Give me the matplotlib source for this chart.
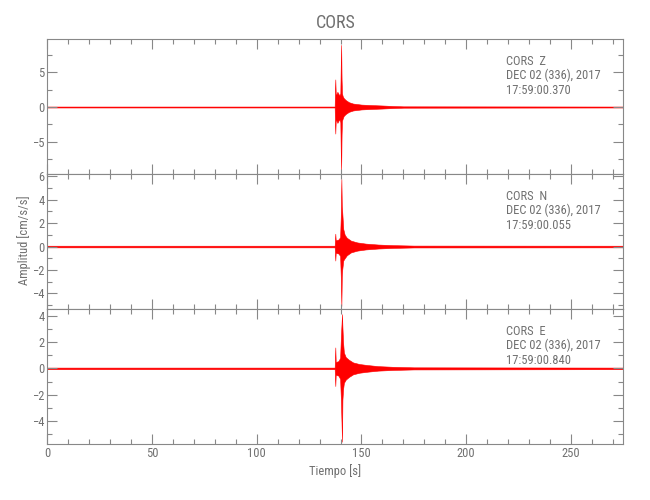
import matplotlib
matplotlib.use("Agg")
import matplotlib.pyplot as plt
from matplotlib.ticker import MultipleLocator
from matplotlib import font_manager

names = {f.name for f in font_manager.fontManager.ttflist}
fam = [n for n in ['Liberation Sans Narrow', 'DejaVu Sans Condensed', 'Roboto Condensed']
       if n in names] + ['DejaVu Sans']
plt.rcParams['font.family'] = fam
condensed = fam[0] != 'DejaVu Sans'
fs = 9 if condensed else 8

# ---------------- data (envelopes) ----------------
station = "CORS"
date_str = "DEC 02 (336), 2017"
components = ["Z", "N", "E"]
start_times = ["17:59:00.370", "17:59:00.055", "17:59:00.840"]

t_z = [0, 137.2, 137.35, 137.5, 137.7, 138.0, 138.5, 139.0, 139.5, 139.9, 140.1,
       140.3, 140.5, 140.7, 141.0, 141.5, 142.5, 144, 146, 150, 155, 160, 165, 170, 275]
up_z = [0.07, 0.07, 2.5, 4.0, 2.0, 1.8, 2.2, 1.9, 1.7, 2.0, 6.0,
        9.0, 4.0, 2.0, 1.6, 1.3, 1.0, 0.7, 0.5, 0.35, 0.28, 0.22, 0.15, 0.1, 0.07]
lo_z = [-0.07, -0.07, -2.5, -3.85, -2.0, -1.9, -2.3, -2.0, -1.8, -2.2, -6.5,
        -9.1, -4.0, -2.0, -1.7, -1.3, -1.0, -0.7, -0.5, -0.35, -0.28, -0.22, -0.15, -0.1, -0.07]

t_n = [0, 137.2, 137.35, 137.5, 137.7, 138.0, 139.0, 139.8, 140.1, 140.4, 140.6,
       140.8, 141.3, 142, 143, 145, 148, 152, 158, 165, 175, 275]
up_n = [0.07, 0.07, 0.6, 1.1, 0.55, 0.55, 0.6, 0.8, 2.5, 5.77, 3.5,
        3.0, 1.5, 1.0, 0.75, 0.5, 0.35, 0.25, 0.17, 0.12, 0.08, 0.07]
lo_n = [-0.07, -0.07, -0.6, -1.2, -0.55, -0.55, -0.6, -0.8, -2.5, -5.08, -2.6,
        -2.0, -1.2, -1.0, -0.75, -0.5, -0.35, -0.25, -0.17, -0.12, -0.08, -0.07]

t_e = [0, 137.2, 137.35, 137.5, 137.7, 138.0, 139.0, 139.8, 140.2, 140.7, 140.9,
       141.2, 141.6, 142.5, 144, 146, 149, 153, 158, 165, 175, 275]
up_e = [0.06, 0.06, 0.8, 1.59, 0.5, 0.5, 0.55, 0.8, 2.5, 4.11, 3.15,
        2.0, 1.2, 0.85, 0.65, 0.45, 0.33, 0.25, 0.17, 0.12, 0.08, 0.06]
lo_e = [-0.06, -0.06, -0.7, -1.34, -0.5, -0.5, -0.55, -0.8, -2.5, -5.56, -2.4,
        -1.6, -1.1, -0.85, -0.65, -0.45, -0.33, -0.25, -0.17, -0.12, -0.08, -0.06]

times = [t_z, t_n, t_e]
uppers = [up_z, up_n, up_e]
lowers = [lo_z, lo_n, lo_e]
ylims = [(-9.7, 9.85), (-5.34, 6.2), (-5.73, 4.5)]
y_major = [5, 2, 2]
y_minor = [2.5, 1, 1]
xlim = (0, 275)

# ---------------- figure ----------------
gray = "#707070"
fig = plt.figure(figsize=(6.5, 5.0), dpi=100)
left, width = 47.3 / 650, 576 / 650
tops = [39, 174, 309]
h = 135
axes = []
for i in range(3):
    ax = fig.add_axes([left, 1 - (tops[i] + h) / 500, width, h / 500])
    axes.append(ax)
    ax.fill_between(times[i], lowers[i], uppers[i], color="#ff0000",
                    linewidth=0.4, edgecolor="#ff0000")
    ax.set_xlim(*xlim)
    ax.set_ylim(*ylims[i])
    ax.xaxis.set_major_locator(MultipleLocator(50))
    ax.xaxis.set_minor_locator(MultipleLocator(10))
    ax.yaxis.set_major_locator(MultipleLocator(y_major[i]))
    ax.yaxis.set_minor_locator(MultipleLocator(y_minor[i]))
    ax.tick_params(which="both", direction="in", top=True, right=True,
                   colors="#888888", labelcolor=gray, labelsize=fs, width=0.8)
    ax.tick_params(which="major", length=7, pad=2)
    ax.tick_params(which="minor", length=3.5)
    for sp in ax.spines.values():
        sp.set_color("#888888")
        sp.set_linewidth(0.8)
    if i < 2:
        ax.tick_params(labelbottom=False)
    ax.text(0.796, 0.832, f"{station}  {components[i]}", transform=ax.transAxes,
            fontsize=fs, color=gray, va="center", ha="left")
    ax.text(0.796, 0.733, date_str, transform=ax.transAxes,
            fontsize=fs, color=gray, va="center", ha="left")
    ax.text(0.796, 0.622, start_times[i], transform=ax.transAxes,
            fontsize=fs, color=gray, va="center", ha="left")

axes[0].set_title(station, fontsize=13, color=gray, pad=8)
axes[2].set_xlabel("Tiempo [s]", fontsize=fs, color=gray, labelpad=3)
fig.text(24 / 650, 1 - 240 / 500, "Amplitud [cm/s/s]", rotation=90,
         fontsize=fs, color=gray, ha="center", va="center")

fig.savefig("out.png", dpi=100)
